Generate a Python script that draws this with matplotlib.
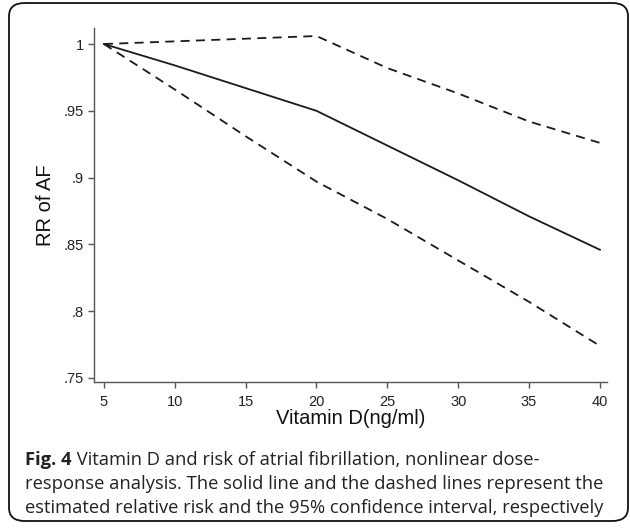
import matplotlib
matplotlib.use("Agg")
import matplotlib.pyplot as plt
from matplotlib.patches import FancyBboxPatch

# data
vitd = [5, 10, 15, 20, 25, 30, 35, 40]
rr = [1.0, 0.984, 0.967, 0.950, 0.924, 0.898, 0.871, 0.846]
rr_hi = [1.0, 1.002, 1.004, 1.006, 0.982, 0.963, 0.942, 0.926]
rr_lo = [1.0, 0.966, 0.931, 0.897, 0.869, 0.838, 0.807, 0.774]

xticks = [5, 10, 15, 20, 25, 30, 35, 40]
yticks = [0.75, 0.8, 0.85, 0.9, 0.95, 1.0]
ylabels = [".75", ".8", ".85", ".9", ".95", "1"]

caption_bold = "Fig. 4"
caption_lines = [
    " Vitamin D and risk of atrial fibrillation, nonlinear dose-",
    "response analysis. The solid line and the dashed lines represent the",
    "estimated relative risk and the 95% confidence interval, respectively",
]

W, H = 630, 531
fig = plt.figure(figsize=(W / 100, H / 100), dpi=100)

# rounded frame around the whole panel
frame = FancyBboxPatch((9 / W, 10 / H), 619 / W, 518 / H,
                       boxstyle="round,pad=0,rounding_size=0.025",
                       transform=fig.transFigure, fill=False,
                       edgecolor="#111111", linewidth=1.3)
fig.patches.append(frame)

ax = fig.add_axes([94 / W, 1 - 382 / H, 513 / W, 354 / H])
ax.plot(vitd, rr, color="#1a1a1a", lw=1.3)
ax.plot(vitd, rr_hi, color="#1a1a1a", lw=1.3, dashes=(5, 3.5))
ax.plot(vitd, rr_lo, color="#1a1a1a", lw=1.3, dashes=(5, 3.5))

ax.set_xlim(4.3, 40.5)
ax.set_ylim(0.747, 1.012)
ax.set_xticks(xticks)
ax.set_yticks(yticks)
ax.set_yticklabels(ylabels)

for s in ["top", "right"]:
    ax.spines[s].set_visible(False)
for s in ["left", "bottom"]:
    ax.spines[s].set_color("#555555")
    ax.spines[s].set_linewidth(1.0)
ax.tick_params(colors="#555555", length=4, width=1.0, labelsize=10.5,
               labelcolor="#222222")
ax.tick_params(axis="x", pad=5)
for lab in ax.get_xticklabels() + ax.get_yticklabels():
    lab.set_fontfamily("Liberation Sans")

ax.set_xlabel("Vitamin D(ng/ml)", fontsize=14.5, family="Liberation Sans",
              color="#111111", labelpad=0)
ax.set_ylabel("RR of AF", fontsize=14.5, family="Liberation Sans",
              color="#111111", labelpad=6)

# caption with bold "Fig. 4"
cap_kw = dict(fontsize=13.2, family="Open Sans", color="#222222", va="center")
y0 = 1 - 460 / H
t = fig.text(25 / W, y0, caption_bold, fontweight="bold", **cap_kw)
fig.canvas.draw()
bb = t.get_window_extent()
fig.text(bb.x1 / W, y0, caption_lines[0], **cap_kw)
fig.text(25 / W, 1 - 484 / H, caption_lines[1], **cap_kw)
fig.text(25 / W, 1 - 508 / H, caption_lines[2], **cap_kw)

fig.savefig("out.png", dpi=100)
